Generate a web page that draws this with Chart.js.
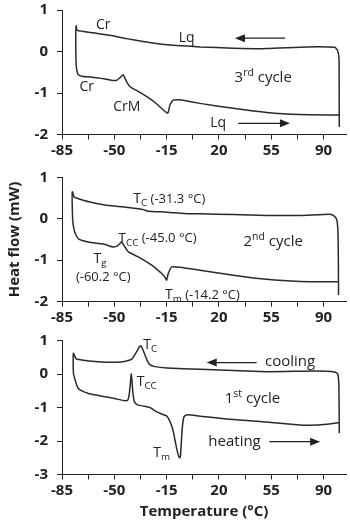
<!DOCTYPE html>
<html>
<head>
<meta charset="utf-8">
<script src="https://cdn.jsdelivr.net/npm/chart.js@4.4.1/dist/chart.umd.min.js"></script>
<style>
  html, body { margin: 0; padding: 0; background: #fff; }
  #wrap { position: relative; width: 350px; height: 523px; overflow: hidden; }
  canvas { position: absolute; left: 0; }
</style>
</head>
<body>
<div id="wrap">
  <canvas id="c3" width="350" height="175" style="top:-10px"></canvas>
  <canvas id="c2" width="350" height="178" style="top:157px"></canvas>
  <canvas id="c1" width="350" height="203" style="top:320px"></canvas>
</div>
<script>
'use strict';

// x axis ticks (°C)
const xMajorTicks = [-85, -50, -15, 20, 55, 90];

// 3rd cycle: path goes up the right edge, cooling to the left, then heating back
const cycle3Temp = [100.5, 100.4, 100.3, 99.2, 97.5, 78.7, 52, 29.4, 7.3, -5, -14.8, -22, -30.8, -42, -52.9, -64, -74.8, -75.6,
  -75.8, -75.7, -75.3, -74.1, -71, -67.4, -62, -56.2, -50.7, -48.2, -46.2, -44, -42.8, -41.7, -39.5, -35.5, -31.7, -27, -22.8,
  -17.2, -15.5, -14.3, -13.6, -12.8, -10.6, -7, -4.9, 7.3, 29.6, 52, 74.2, 96.3, 100.5];
const cycle3Flow = [-1.82, -0.6, -0.16, 0.04, 0.1, 0.11, 0.07, 0.08, 0.11, 0.14, 0.16, 0.19, 0.24, 0.31, 0.39, 0.45, 0.51, 0.62,
  0.3, -0.15, -0.4, -0.56, -0.6, -0.61, -0.63, -0.66, -0.7, -0.69, -0.63, -0.56, -0.65, -0.73, -0.85, -0.93, -1.01, -1.12, -1.23,
  -1.41, -1.46, -1.49, -1.42, -1.29, -1.17, -1.16, -1.17, -1.25, -1.37, -1.47, -1.52, -1.53, -1.53];

// 2nd cycle
const cycle2Temp = [100, 99.9, 99.6, 98.8, 97, 94.3, 74.2, 52, 29.6, 7.3, -0.5, -15, -27.3, -30.6, -34, -45, -56.2, -67, -74.5,
  -76.8, -78.1, -78.2, -77.9, -77.5, -76.5, -74.1, -71, -67.4, -62, -56.2, -50.7, -47.3, -45.1, -42.9, -40.6, -34, -25, -18.3,
  -16, -15, -13.9, -11.6, -6, -0.5, 7.3, 29.6, 52, 74.2, 96.5, 100];
const cycle2Flow = [-1.84, -1.0, -0.3, -0.02, 0.07, 0.11, 0.08, 0.08, 0.1, 0.12, 0.12, 0.16, 0.18, 0.22, 0.24, 0.29, 0.33, 0.41,
  0.49, 0.52, 0.65, 0.4, 0.0, -0.15, -0.32, -0.48, -0.53, -0.56, -0.59, -0.62, -0.68, -0.64, -0.56, -0.68, -0.8, -0.92, -1.12,
  -1.32, -1.42, -1.48, -1.32, -1.16, -1.17, -1.2, -1.24, -1.36, -1.46, -1.51, -1.52, -1.52];

// 1st cycle
const cycle1Temp = [100.5, 100.4, 100.2, 99.5, 97.5, 85.4, 52, 7.3, -15, -22.8, -26.1, -28, -29.5, -31, -32.2, -33.5, -34.8,
  -36.2, -37.8, -39.5, -45.1, -55, -62.9, -72, -75.5, -77.4,
  -77.5, -77.3, -76.5, -75.5, -74.1, -71, -67.4, -62, -56.2, -50, -45.1, -42.5, -41, -40, -39.2, -38.7, -38.2, -37.7, -37,
  -36.2, -34, -30, -26.1, -22.8, -18, -15, -13.9, -12, -10.6, -9.3, -8.3, -7.3, -6.5, -5.8, -5.4, -4.9, -4.5, -3.9, -3.4,
  -2.5, -0.5, 7.3, 25, 47.4, 74.2, 80.9, 92, 98.7, 100.5];
const cycle1Flow = [-1.77, -1.0, -0.3, 0.0, 0.06, 0.09, 0.07, 0.14, 0.18, 0.22, 0.27, 0.4, 0.57, 0.74, 0.84, 0.8, 0.68,
  0.58, 0.47, 0.42, 0.36, 0.35, 0.37, 0.42, 0.45, 0.62,
  0.3, 0.0, -0.13, -0.28, -0.43, -0.52, -0.58, -0.63, -0.68, -0.73, -0.78, -0.8, -0.78, -0.6, -0.25, 0.0, -0.2, -0.5, -0.75,
  -0.86, -0.93, -0.96, -1.0, -1.1, -1.2, -1.25, -1.32, -1.5, -1.7, -2.0, -2.22, -2.4, -2.5, -2.47, -2.2, -1.85, -1.6, -1.38,
  -1.28, -1.24, -1.22, -1.26, -1.34, -1.42, -1.52, -1.53, -1.5, -1.46, -1.45];

const ink = '#222';
const tickFont = { family: 'Open Sans', size: 15, weight: 'bold' };

function points(xs, ys) {
  return xs.map((x, i) => ({ x: x, y: ys[i] }));
}

// text and arrows placed in data units
function notesPlugin(items) {
  return {
    id: 'notes',
    afterDatasetsDraw(chart) {
      const ctx = chart.ctx;
      const sx = chart.scales.x, sy = chart.scales.y;
      ctx.save();
      ctx.fillStyle = ink;
      ctx.strokeStyle = ink;
      items.forEach(it => {
        if (it.arrow) {
          const x1 = sx.getPixelForValue(it.arrow[0]), y1 = sy.getPixelForValue(it.arrow[1]);
          const x2 = sx.getPixelForValue(it.arrow[2]), y2 = sy.getPixelForValue(it.arrow[3]);
          const dir = Math.sign(x2 - x1);
          ctx.lineWidth = 1.3;
          ctx.beginPath();
          ctx.moveTo(x1, y1);
          ctx.lineTo(x2 - dir * 8, y2);
          ctx.stroke();
          ctx.beginPath();
          ctx.moveTo(x2, y2);
          ctx.lineTo(x2 - dir * 10, y2 - 4);
          ctx.lineTo(x2 - dir * 10, y2 + 4);
          ctx.closePath();
          ctx.fill();
          return;
        }
        const base = it.size || 14;
        let w = 0;
        const parts = it.parts.map(p => {
          const size = p.sub || p.sup ? base * 0.7 : (p.size || base);
          ctx.font = size + 'px "Open Sans"';
          const pw = ctx.measureText(p.t).width;
          w += pw;
          return { t: p.t, size: size, w: pw, dy: p.sub ? base * 0.3 : (p.sup ? -base * 0.32 : 0) };
        });
        let x = sx.getPixelForValue(it.x);
        const y = sy.getPixelForValue(it.y);
        if (it.align === 'center') x -= w / 2;
        ctx.textBaseline = 'middle';
        ctx.textAlign = 'left';
        parts.forEach(p => {
          ctx.font = p.size + 'px "Open Sans"';
          ctx.fillText(p.t, x, y + p.dy);
          x += p.w;
        });
      });
      ctx.restore();
    }
  };
}

function makePanel(id, temps, flows, yMin, yMax, xHeight, padTop, notes, yTitle, xTitle) {
  new Chart(document.getElementById(id), {
    type: 'scatter',
    data: {
      datasets: [{
        data: points(temps, flows),
        showLine: true,
        borderColor: '#2a2a2a',
        borderWidth: 1.5,
        pointRadius: 0,
        tension: 0.15
      }]
    },
    options: {
      responsive: false,
      animation: false,
      layout: { padding: { top: padTop, right: 4, left: 0, bottom: 0 } },
      plugins: { legend: { display: false }, tooltip: { enabled: false } },
      scales: {
        x: {
          type: 'linear',
          min: -85,
          max: 105,
          afterBuildTicks: s => {
            const t = [];
            for (let k = 0; k <= 10; k++) t.push({ value: -85 + 17.5 * k });
            s.ticks = t;
          },
          afterFit: s => { s.height = xHeight; },
          ticks: {
            autoSkip: false,
            maxRotation: 0,
            padding: 2,
            color: ink,
            font: tickFont,
            callback: v => xMajorTicks.includes(v) ? String(v) : ''
          },
          grid: { drawOnChartArea: false, drawTicks: true, tickLength: 5, color: ink },
          border: { display: true, color: ink, width: 1 },
          title: {
            display: !!xTitle,
            text: xTitle || '',
            color: ink,
            font: { family: 'Open Sans', size: 15, weight: 'bold' },
            padding: { top: 0, bottom: 2 }
          }
        },
        y: {
          min: yMin,
          max: yMax,
          afterFit: s => { s.width = 62; },
          ticks: {
            stepSize: 0.5,
            padding: 9,
            color: ink,
            font: tickFont,
            callback: v => Number.isInteger(v) ? String(v) : ''
          },
          grid: { drawOnChartArea: false, drawTicks: true, tickLength: 5, color: ink },
          border: { display: true, color: ink, width: 1 },
          title: {
            display: !!yTitle,
            text: yTitle || '',
            color: ink,
            font: { family: 'Open Sans', size: 15, weight: 'bold' },
            padding: { top: 6, bottom: 0 }
          }
        }
      }
    },
    plugins: [notesPlugin(notes)]
  });
}

makePanel('c3', cycle3Temp, cycle3Flow, -2, 1, 30.5, 20, [
  { x: -57.4, y: 0.65, align: 'center', parts: [{ t: 'Cr' }] },
  { x: -1.6, y: 0.32, align: 'center', parts: [{ t: 'Lq' }] },
  { arrow: [64.2, 0.32, 30.7, 0.32] },
  { x: 49.6, y: -0.64, align: 'center', size: 15, parts: [{ t: '3' }, { t: 'rd', sup: true }, { t: ' cycle' }] },
  { x: -68.5, y: -0.85, align: 'center', parts: [{ t: 'Cr' }] },
  { x: -41.7, y: -1.33, align: 'center', parts: [{ t: 'CrM' }] },
  { x: 19.5, y: -1.73, align: 'center', parts: [{ t: 'Lq' }] },
  { arrow: [32.9, -1.73, 67.5, -1.73] }
]);

makePanel('c2', cycle2Temp, cycle2Flow, -2, 1, 33.3, 20.3, [
  { x: -37.3, y: 0.48, parts: [{ t: 'T' }, { t: 'C', sub: true }, { t: ' (-31.3 °C)', size: 13 }] },
  { x: -47.3, y: -0.48, parts: [{ t: 'T' }, { t: 'CC', sub: true }, { t: ' (-45.0 °C)', size: 13 }] },
  { x: 56.3, y: -0.56, align: 'center', size: 15, parts: [{ t: '2' }, { t: 'nd', sup: true }, { t: ' cycle' }] },
  { x: -59.6, y: -0.96, align: 'center', parts: [{ t: 'T' }, { t: 'g', sub: true }] },
  { x: -57.4, y: -1.41, align: 'center', parts: [{ t: '(-60.2 °C)', size: 13 }] },
  { x: -16.1, y: -1.85, parts: [{ t: 'T' }, { t: 'm', sub: true }, { t: ' (-14.2 °C)', size: 13 }] }
], 'Heat flow (mW)');

makePanel('c1', cycle1Temp, cycle1Flow, -3, 1, 48.5, 20.5, [
  { x: -30.6, y: 0.87, parts: [{ t: 'T' }, { t: 'C', sub: true }] },
  { x: -35, y: -0.23, parts: [{ t: 'T' }, { t: 'CC', sub: true }] },
  { x: 50.8, y: 0.37, size: 15, parts: [{ t: 'cooling' }] },
  { arrow: [45.2, 0.34, 11.8, 0.34] },
  { x: 42.4, y: -0.73, align: 'center', size: 15, parts: [{ t: '1' }, { t: 'st', sup: true }, { t: ' cycle' }] },
  { x: 12.9, y: -2.02, size: 15, parts: [{ t: 'heating' }] },
  { arrow: [53.7, -2.02, 87.7, -2.02] },
  { x: -23.9, y: -2.37, parts: [{ t: 'T' }, { t: 'm', sub: true }] }
], null, 'Temperature (°C)');
</script>
</body>
</html>
